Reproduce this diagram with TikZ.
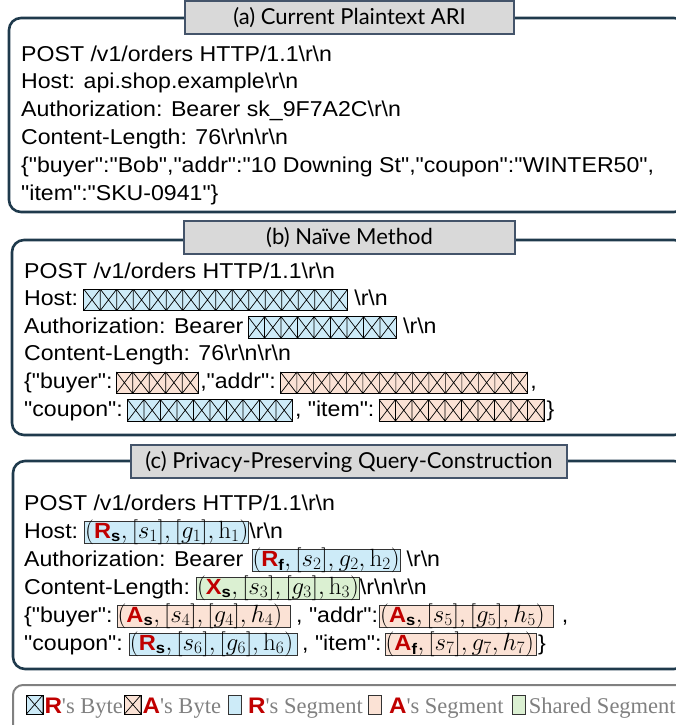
\documentclass[tikz,border=0pt]{standalone}
\usepackage[no-math]{fontspec}
\newfontfamily\reqfont{Liberation Sans}[FakeStretch=1.075]
\newfontfamily\titlefont{Lato}
\newfontfamily\keyfont{Liberation Serif}
\usetikzlibrary{positioning}

\definecolor{panelline}{HTML}{1F3A4C}
\definecolor{titlefill}{HTML}{D9D9D9}
\definecolor{titleline}{HTML}{44546A}
\definecolor{rseg}{HTML}{CDEBF8}
\definecolor{aseg}{HTML}{FBE2D5}
\definecolor{sseg}{HTML}{DBF0D2}
\definecolor{keyred}{HTML}{C00000}
\definecolor{keygray}{HTML}{808080}

\newcommand{\crlf}{\textbackslash r\textbackslash n}
\newcommand{\who}[2]{{\fontsize{22}{26}\selectfont\textcolor{keyred}{\reqfont\bfseries #1}\textsubscript{\reqfont\bfseries #2}}}
\newcommand{\keyletter}[1]{\textcolor{keyred}{\reqfont\bfseries #1}}

\tikzset{
  panel/.style={draw=panelline, line width=2.6pt, rounded corners=12pt},
  keybox/.style={draw=keygray, line width=2pt, rounded corners=10pt},
  caption/.style={draw=titleline, line width=1.2pt, fill=titlefill, minimum height=33pt,
    inner sep=0pt, font=\titlefont\fontsize{22}{26}\selectfont},
  row/.style={anchor=base west, inner sep=0pt, font=\reqfont\fontsize{21.5}{26}\selectfont},
  seg/.style={anchor=base west, draw=black!80, line width=0.8pt, fill=#1, inner sep=0.5pt,
    text height=16pt, text depth=5pt, font=\reqfont\fontsize{25}{30}\selectfont},
  bytes/.style 2 args={anchor=base west, draw=black, line width=0.8pt, fill=#2, inner sep=0pt,
    minimum width=#1*16.5pt, text height=16.5pt, text depth=5pt,
    path picture={\foreach \k in {1,...,#1}{
      \draw[line width=0.7pt]
        ([xshift={(\k-1)*16.5pt}]path picture bounding box.south west)
          -- ([xshift={\k*16.5pt}]path picture bounding box.north west)
        ([xshift={(\k-1)*16.5pt}]path picture bounding box.north west)
          -- ([xshift={\k*16.5pt}]path picture bounding box.south west)
        ([xshift={\k*16.5pt}]path picture bounding box.south west)
          -- ([xshift={\k*16.5pt}]path picture bounding box.north west);}}},
  key/.style={anchor=base west, inner sep=0pt, text=keygray, font=\keyfont\fontsize{22.5}{26}\selectfont},
  keyseg/.style={anchor=base west, draw=black!80, line width=0.8pt, fill=#1, inner sep=0pt,
    minimum width=13pt, text height=18pt, text depth=1pt}
}

\begin{document}
\begin{tikzpicture}[x=1pt, y=-1pt]
\useasboundingbox (0,0) rectangle (676,725);

% (a) plaintext request
\draw[panel] (9,18) rectangle (686,212);
\node[caption, minimum width=329pt] (ta) at (349.5,17.5) {(a) Current Plaintext ARI};
\node[row] (a1) at (21,61) {POST /v1/orders HTTP/1.1\crlf};
\node[row] (a2) at ([yshift=-27.8pt]a1.base west) {Host: api.shop.example\crlf};
\node[row] (a3) at ([yshift=-27.8pt]a2.base west) {Authorization: Bearer sk\_9F7A2C\crlf};
\node[row] (a4) at ([yshift=-27.8pt]a3.base west) {Content-Length: 76\crlf\crlf};
\node[row] (a5) at ([yshift=-27.8pt]a4.base west) {\{"buyer":"Bob","addr":"10 Downing St","coupon":"WINTER50",};
\node[row] (a6) at ([yshift=-27.8pt]a5.base west) {"item":"SKU-0941"\}};

% (b) naive byte masking
\draw[panel] (12,240) rectangle (686,435);
\node[caption, minimum width=331pt] (tb) at (349.5,237.5) {(b) Naïve Method};
\node[row] (b1) at (24,278) {POST /v1/orders HTTP/1.1\crlf};
\node[row] (b2) at ([yshift=-27.6pt]b1.base west) {Host:};
\node[bytes={16}{rseg}] (b2x) at ([xshift=5pt]b2.base east) {};
\node[row] at ([xshift=6pt]b2x.base east) {\crlf};
\node[row] (b3) at ([yshift=-27.6pt]b2.base west) {Authorization: Bearer};
\node[bytes={9}{rseg}] (b3x) at ([xshift=4pt]b3.base east) {};
\node[row] at ([xshift=6pt]b3x.base east) {\crlf};
\node[row] (b4) at ([yshift=-27.6pt]b3.base west) {Content-Length: 76\crlf\crlf};
\node[row] (b5) at ([yshift=-27.6pt]b4.base west) {\{"buyer":};
\node[bytes={5}{aseg}] (b5x) at ([xshift=3pt]b5.base east) {};
\node[row] (b5b) at ([xshift=1pt]b5x.base east) {,"addr":};
\node[bytes={15}{aseg}] (b5y) at ([xshift=4pt]b5b.base east) {};
\node[row] at ([xshift=2pt]b5y.base east) {,};
\node[row] (b6) at ([yshift=-27.6pt]b5.base west) {"coupon":};
\node[bytes={10}{rseg}] (b6x) at ([xshift=4pt]b6.base east) {};
\node[row] (b6b) at ([xshift=2pt]b6x.base east) {, "item":};
\node[bytes={10}{aseg}] (b6y) at ([xshift=4pt]b6b.base east) {};
\node[row] at ([xshift=2pt]b6y.base east) {\}};

% (c) segment tuples
\draw[panel] (13,461) rectangle (686,669);
\node[caption, minimum width=436pt] (tc) at (349,461.5) {(c) Privacy-Preserving Query-Construction};
\node[row] (c1) at (24,510) {POST /v1/orders HTTP/1.1\crlf};
\node[row] (c2) at ([yshift=-28pt]c1.base west) {Host:};
\node[seg=rseg] (c2s) at ([xshift=6pt]c2.base east) {$($\who{R}{s}$,[s_1],[g_1],\mathrm{h}_1)$};
\node[row] at (c2s.base east) {\crlf};
\node[row] (c3) at ([yshift=-28pt]c2.base west) {Authorization: Bearer};
\node[seg=rseg] (c3s) at ([xshift=8pt]c3.base east) {$($\who{R}{f}$,[s_2],g_2,\mathrm{h}_2)$};
\node[row] at ([xshift=6pt]c3s.base east) {\crlf};
\node[row] (c4) at ([yshift=-28pt]c3.base west) {Content-Length:};
\node[seg=sseg] (c4s) at ([xshift=6pt]c4.base east) {$($\who{X}{s}$,[s_3],[g_3],\mathrm{h}_3)$};
\node[row] at (c4s.base east) {\crlf\crlf};
\node[row] (c5) at ([yshift=-28pt]c4.base west) {\{"buyer":};
\node[seg=aseg] (c5s) at ([xshift=4pt]c5.base east) {$($\who{A}{s}$,[s_4],[g_4],h_4)$\kern8pt};
\node[row] (c5b) at ([xshift=5pt]c5s.base east) {, "addr":};
\node[seg=aseg] (c5t) at ([xshift=1pt]c5b.base east) {$($\who{A}{s}$,[s_5],[g_5],h_5)$\kern8pt};
\node[row] at ([xshift=8pt]c5t.base east) {,};
\node[row] (c6) at ([yshift=-28pt]c5.base west) {"coupon":};
\node[seg=rseg] (c6s) at ([xshift=6pt]c6.base east) {$($\who{R}{s}$,[s_6],[g_6],\mathrm{h}_6)$\kern4pt};
\node[row] (c6b) at ([xshift=4pt]c6s.base east) {, "item":};
\node[seg=aseg] (c6t) at ([xshift=3pt]c6b.base east) {$($\who{A}{f}$,[s_7],g_7,h_7)$\kern2pt};
\node[row] at ([xshift=1pt]c6t.base east) {\}};

% legend
\draw[keybox] (13,685) rectangle (686,745);
\node[bytes={1}{rseg}, text height=18pt, text depth=1pt] (k1) at (26,713) {};
\node[key] (k1t) at ([xshift=1pt]k1.base east) {\keyletter{R}'s Byte};
\node[bytes={1}{aseg}, text height=18pt, text depth=1pt] (k2) at ([xshift=1pt]k1t.base east) {};
\node[key] (k2t) at ([xshift=1pt]k2.base east) {\keyletter{A}'s Byte};
\node[keyseg=rseg] (k3) at ([xshift=7pt]k2t.base east) {};
\node[key] (k3t) at ([xshift=6pt]k3.base east) {\keyletter{R}'s Segment};
\node[keyseg=aseg] (k4) at ([xshift=5pt]k3t.base east) {};
\node[key] (k4t) at ([xshift=7pt]k4.base east) {\keyletter{A}'s Segment};
\node[keyseg=sseg] (k5) at ([xshift=8pt]k4t.base east) {};
\node[key] (k5t) at ([xshift=3pt]k5.base east) {Shared Segment};
\end{tikzpicture}
\end{document}
